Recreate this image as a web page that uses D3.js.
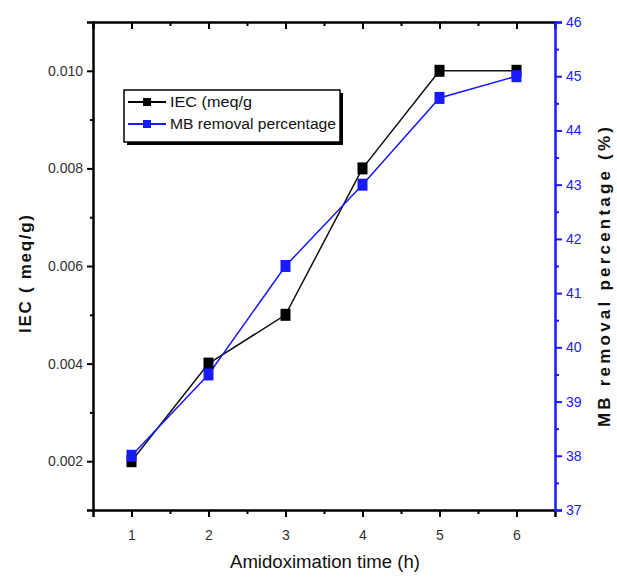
<!DOCTYPE html>
<html>
<head>
<meta charset="utf-8">
<script src="https://cdn.jsdelivr.net/npm/d3@7"></script>
<style>
  body { margin: 0; background: #fff; }
  text { font-family: "Liberation Sans", Arial, sans-serif; }
</style>
</head>
<body>
<div id="chart"></div>
<script>
// data
const hours = [1, 2, 3, 4, 5, 6];
const iec = [0.002, 0.004, 0.005, 0.008, 0.010, 0.010];
const mbRemoval = [38, 39.5, 41.5, 43, 44.6, 45];
const leftTicks = [0.002, 0.004, 0.006, 0.008, 0.010];
const rightTicks = [37, 38, 39, 40, 41, 42, 43, 44, 45, 46];

const width = 617, height = 583;
const margin = { top: 22, right: 62, bottom: 73, left: 93 };
const blue = "#1a1aff";

const svg = d3.select("#chart").append("svg")
  .attr("width", width)
  .attr("height", height);

const x = d3.scaleLinear().domain([0.5, 6.5]).range([margin.left, width - margin.right]);
const yL = d3.scaleLinear().domain([0.001, 0.011]).range([height - margin.bottom, margin.top]);
const yR = d3.scaleLinear().domain([37, 46]).range([height - margin.bottom, margin.top]);

const plotB = height - margin.bottom, plotT = margin.top;
const plotL = margin.left, plotR = width - margin.right;

// bottom axis
svg.append("g").attr("transform", `translate(0,${plotB})`)
  .call(d3.axisBottom(x).tickValues(hours).tickSize(7).tickPadding(13).tickFormat(d3.format("d")));
svg.append("g").attr("transform", `translate(0,${plotB})`)
  .call(d3.axisBottom(x).tickValues(d3.range(1.5, 6.5, 1)).tickSize(4).tickFormat(""))
  .call(g => g.select(".domain").remove());

// top axis (mirror, ticks pointing in)
svg.append("g").attr("transform", `translate(0,${plotT})`)
  .call(d3.axisBottom(x).tickValues(hours).tickSize(7).tickFormat(""));
svg.append("g").attr("transform", `translate(0,${plotT})`)
  .call(d3.axisBottom(x).tickValues(d3.range(1.5, 6.5, 1)).tickSize(4).tickFormat(""))
  .call(g => g.select(".domain").remove());

// left axis
svg.append("g").attr("transform", `translate(${plotL},0)`)
  .call(d3.axisLeft(yL).tickValues(leftTicks).tickSize(6).tickPadding(4).tickFormat(d3.format(".3f")));
svg.append("g").attr("transform", `translate(${plotL},0)`)
  .call(d3.axisLeft(yL).tickValues([0.003, 0.005, 0.007, 0.009]).tickSize(3).tickFormat(""))
  .call(g => g.select(".domain").remove());

svg.selectAll(".domain").attr("stroke-width", 2.5);
svg.selectAll(".tick line").attr("stroke-width", 2);
svg.selectAll(".tick text").attr("font-size", 14).attr("fill", "#333");

// right axis (blue)
const rightAxis = svg.append("g").attr("transform", `translate(${plotR},0)`)
  .call(d3.axisRight(yR).tickValues(rightTicks).tickSize(7).tickPadding(4).tickFormat(d3.format("d")));
const rightMinor = svg.append("g").attr("transform", `translate(${plotR},0)`)
  .call(d3.axisRight(yR).tickValues(d3.range(37.5, 46, 1)).tickSize(4).tickFormat(""))
  .call(g => g.select(".domain").remove());
rightAxis.select(".domain").attr("stroke", blue).attr("stroke-width", 2.5);
rightAxis.selectAll(".tick line").attr("stroke", blue).attr("stroke-width", 2);
rightMinor.selectAll(".tick line").attr("stroke", blue).attr("stroke-width", 2);
rightAxis.selectAll(".tick text").attr("font-size", 14).attr("fill", blue);

// series
const lineL = d3.line().x((d, i) => x(hours[i])).y(d => yL(d));
const lineR = d3.line().x((d, i) => x(hours[i])).y(d => yR(d));

svg.append("path").datum(iec)
  .attr("d", lineL).attr("fill", "none").attr("stroke", "#111").attr("stroke-width", 1.5);
svg.append("path").datum(mbRemoval)
  .attr("d", lineR).attr("fill", "none").attr("stroke", blue).attr("stroke-width", 1.5);

svg.selectAll("rect.iec").data(iec).join("rect")
  .attr("class", "iec")
  .attr("x", (d, i) => x(hours[i]) - 5).attr("y", d => yL(d) - 6)
  .attr("width", 10).attr("height", 12).attr("fill", "#000");
svg.selectAll("rect.mb").data(mbRemoval).join("rect")
  .attr("class", "mb")
  .attr("x", (d, i) => x(hours[i]) - 5).attr("y", d => yR(d) - 6)
  .attr("width", 10).attr("height", 12).attr("fill", blue);

// axis titles
svg.append("text")
  .attr("x", 325).attr("y", 568)
  .attr("text-anchor", "middle").attr("font-size", 18).attr("fill", "#111")
  .attr("textLength", 190).attr("lengthAdjust", "spacingAndGlyphs")
  .text("Amidoximation time (h)");
svg.append("text")
  .attr("transform", `translate(31,274) rotate(-90)`)
  .attr("text-anchor", "middle").attr("font-size", 17).attr("font-weight", "bold").attr("fill", "#111")
  .attr("textLength", 118).attr("lengthAdjust", "spacing")
  .text("IEC ( meq/g)");
svg.append("text")
  .attr("transform", `translate(610,277) rotate(-90)`)
  .attr("text-anchor", "middle").attr("font-size", 17).attr("font-weight", "bold").attr("fill", "#111")
  .attr("textLength", 300).attr("lengthAdjust", "spacing")
  .text("MB removal percentage (%)");

// legend
const legend = svg.append("g").attr("transform", "translate(124,90)");
legend.append("rect").attr("x", 3).attr("y", 3).attr("width", 216).attr("height", 52).attr("fill", "#000");
legend.append("rect").attr("width", 216).attr("height", 52).attr("fill", "#fff")
  .attr("stroke", "#000").attr("stroke-width", 1.5);
const entries = [
  { label: "IEC (meq/g", color: "#000" },
  { label: "MB removal percentage", color: blue }
];
const le = legend.selectAll("g.entry").data(entries).join("g")
  .attr("class", "entry")
  .attr("transform", (d, i) => `translate(0,${12 + i * 22})`);
le.append("line").attr("x1", 4).attr("x2", 42).attr("stroke", d => d.color).attr("stroke-width", 2);
le.append("rect").attr("x", 19).attr("y", -4).attr("width", 8).attr("height", 8).attr("fill", d => d.color);
le.append("text").attr("x", 46).attr("y", 5).attr("font-size", 14).attr("fill", "#111")
  .attr("textLength", d => d.label.length > 12 ? 166 : 82).attr("lengthAdjust", "spacingAndGlyphs")
  .text(d => d.label);
</script>
</body>
</html>
